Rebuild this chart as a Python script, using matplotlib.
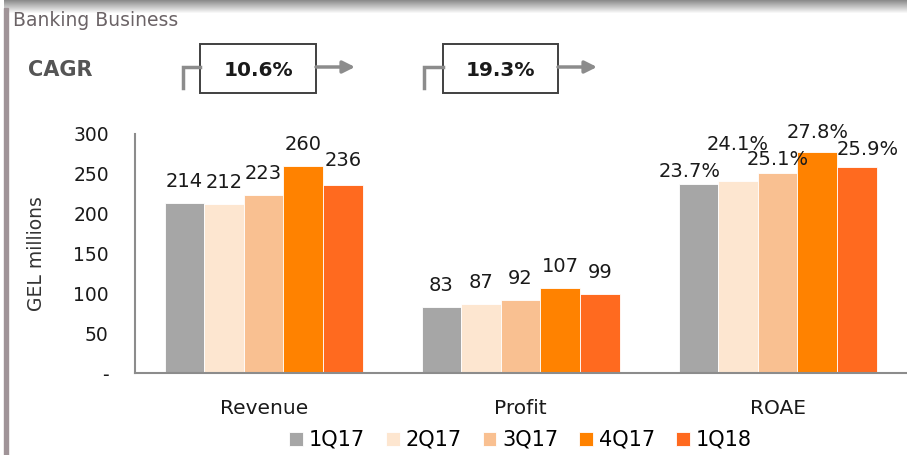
import numpy as np
import matplotlib
matplotlib.use("Agg")
import matplotlib.pyplot as plt
from matplotlib.patches import Rectangle

plt.rcParams['font.family'] = ['DejaVu Sans']

categories = ['Revenue', 'Profit', 'ROAE']
quarters = ['1Q17', '2Q17', '3Q17', '4Q17', '1Q18']
revenue = [214, 212, 223, 260, 236]
profit = [83, 87, 92, 107, 99]
roae = [23.7, 24.1, 25.1, 27.8, 25.9]  # percent, drawn on the GEL axis as x10
cagr = ['10.6%', '19.3%']
yticks = [0, 50, 100, 150, 200, 250, 300]
ytick_labels = ['-', '50', '100', '150', '200', '250', '300']

colors = ['#a6a6a6', '#fde6d0', '#f9c091', '#ff8200', '#ff6a1f']

fig = plt.figure(figsize=(9.07, 4.55), dpi=100)
ax = fig.add_axes([0.149, 0.180, 0.850, 0.5255])

x = np.arange(len(categories))
w = 0.154
# label nudges (points) where the original labels were staggered
lift = {(0, 4): 2, (2, 0): -6.5, (2, 1): 11, (2, 2): -6, (2, 3): -1.5, (2, 4): -3}
shift = {(2, 0): -6, (2, 4): 8}

for i, q in enumerate(quarters):
    vals = [revenue[i], profit[i], roae[i] * 10]
    texts = [str(revenue[i]), str(profit[i]), f'{roae[i]}%']
    pos = x + (i - 2) * w
    ax.bar(pos, vals, width=w, color=colors[i], edgecolor='white',
           linewidth=0.6, label=q)
    for j in range(len(categories)):
        ax.annotate(texts[j], (pos[j], vals[j]),
                    xytext=(shift.get((j, i), 0), 11.5 + lift.get((j, i), 0)),
                    textcoords='offset points', ha='center', va='baseline',
                    fontsize=14, color='#1a1a1a')

ax.set_xlim(-0.5, 2.5)
ax.set_ylim(0, 300)
ax.set_yticks(yticks)
ax.set_yticklabels(ytick_labels)
ax.set_xticks(x)
ax.set_xticklabels(categories)
ax.tick_params(axis='y', length=0, pad=19, labelsize=13.5, labelcolor='#1a1a1a')
ax.tick_params(axis='x', length=0, pad=19, labelsize=14.5, labelcolor='#1a1a1a')
for s in ['top', 'right']:
    ax.spines[s].set_visible(False)
for s in ['left', 'bottom']:
    ax.spines[s].set_color('#8c8c8c')
    ax.spines[s].set_linewidth(1.5)
ax.set_ylabel('GEL millions', fontsize=13.5, color='#333333')
ax.yaxis.set_label_coords(-0.116, 0.5)

fig.legend(loc='lower center', bbox_to_anchor=(0.574, -0.03), ncol=5,
           frameon=False, fontsize=15, handlelength=0.65, handleheight=0.65,
           handletextpad=0.3, columnspacing=1.0)

# overlay for decorations in pixel coordinates
deco = fig.add_axes([0, 0, 1, 1], zorder=-1)
deco.set_xlim(0, 907)
deco.set_ylim(455, 0)
deco.axis('off')

grad = np.linspace(0.55, 1.0, 14).reshape(-1, 1)
deco.imshow(np.repeat(grad, 2, axis=1), cmap='gray', vmin=0, vmax=1,
            extent=(4, 907, 14, 0), aspect='auto')
deco.add_patch(Rectangle((4, 8), 4, 447, color='#a09498'))

ov = fig.add_axes([0, 0, 1, 1], zorder=5)
ov.set_xlim(0, 907)
ov.set_ylim(455, 0)
ov.axis('off')
ov.patch.set_alpha(0)

ov.text(13, 21, 'Banking Business', fontsize=13.5, color='#6b6366', va='center')
ov.text(28, 70, 'CAGR', fontsize=15, fontweight='bold', color='#555555', va='center')

boxes = [(200, 316, 183, 355), (443, 558, 424, 597)]
for (x0, x1, xc, xa), label in zip(boxes, cagr):
    ov.add_patch(Rectangle((x0, 44), x1 - x0, 49, fill=False,
                           edgecolor='#404040', linewidth=1.4))
    ov.text((x0 + x1) / 2, 70, label, fontsize=14.5, fontweight='bold',
            color='#1a1a1a', ha='center', va='center')
    ov.plot([xc, xc, x0], [88, 67, 67], color='#8c8c8c', linewidth=2.5,
            solid_joinstyle='miter')
    ov.annotate('', xy=(xa, 67), xytext=(x1, 67),
                arrowprops=dict(arrowstyle='-|>', color='#8c8c8c', lw=2.5,
                                mutation_scale=18, shrinkA=0, shrinkB=0))

fig.savefig('out.png', dpi=100)
